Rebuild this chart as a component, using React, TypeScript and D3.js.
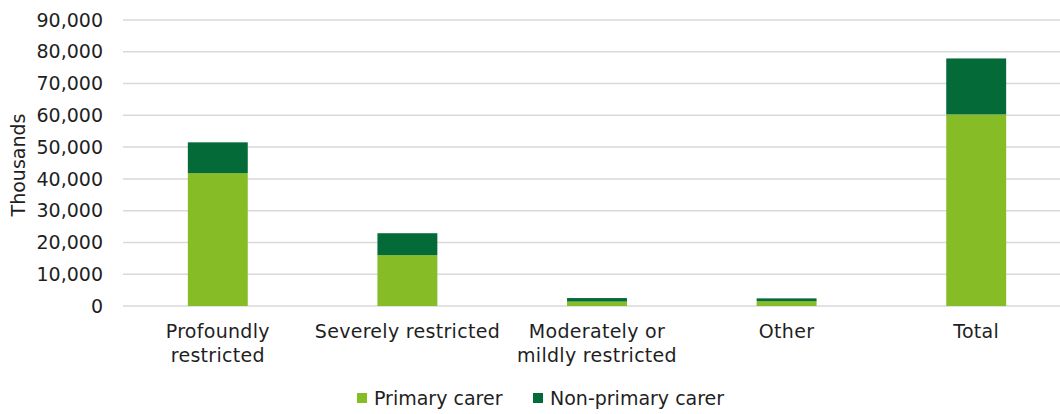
import React from "react";
import * as d3 from "d3";

const categories = [
  ["Profoundly", "restricted"],
  ["Severely restricted"],
  ["Moderately or", "mildly restricted"],
  ["Other"],
  ["Total"],
];
const primaryCarer = [41800, 16000, 1400, 1500, 60300];
const nonPrimaryCarer = [9700, 6900, 1100, 900, 17600];
const yTicks = [0, 10000, 20000, 30000, 40000, 50000, 60000, 70000, 80000, 90000];
const seriesNames = ["Primary carer", "Non-primary carer"];
const colors = ["#86BC25", "#046A38"];

export default function App() {
  const W = 1060, H = 414;
  const left = 123, right = 1071, top = 20, bottom = 306;
  const x = d3.scaleBand<number>().domain(d3.range(categories.length)).range([left, right]).paddingInner(0.684).paddingOuter(0.342);
  const y = d3.scaleLinear().domain([0, 90000]).range([bottom, top]);
  const fmt = d3.format(",");
  const font = "Verdana, 'DejaVu Sans', sans-serif";
  const txt = "#1f1f1f";
  const series = [primaryCarer, nonPrimaryCarer];
  return (
    <svg width={W} height={H} style={{ position: "absolute", left: 0, top: 0 }} fontFamily={font}>
      <rect width={W} height={H} fill="#fff" />
      {yTicks.map((t) => (
        <g key={t}>
          <line x1={left} x2={right} y1={y(t)} y2={y(t)} stroke="#d9d9d9" strokeWidth={1.5} />
          <text x={103} y={y(t)} dy="0.35em" textAnchor="end" fontSize={19} fill={txt}>{fmt(t)}</text>
        </g>
      ))}
      <text transform={`translate(25,165) rotate(-90)`} textAnchor="middle" fontSize={19} fill={txt}>Thousands</text>
      {categories.map((c, i) => {
        let base = 0;
        return (
          <g key={i}>
            {series.map((s, k) => {
              const y0 = base, y1 = base + s[i];
              base = y1;
              return <rect key={k} x={x(i)} width={x.bandwidth()} y={y(y1)} height={y(y0) - y(y1)} fill={colors[k]} />;
            })}
            {c.map((line, j) => (
              <text key={j} x={(x(i) as number) + x.bandwidth() / 2} y={338 + j * 24} textAnchor="middle" fontSize={19} letterSpacing={0.3} fill={txt}>{line}</text>
            ))}
          </g>
        );
      })}
      {seriesNames.map((n, k) => {
        const lx = k === 0 ? 357 : 533;
        return (
          <g key={n}>
            <rect x={lx} y={393} width={10} height={10} fill={colors[k]} />
            <text x={lx + 17} y={405} fontSize={19} fill={txt}>{n}</text>
          </g>
        );
      })}
    </svg>
  );
}
